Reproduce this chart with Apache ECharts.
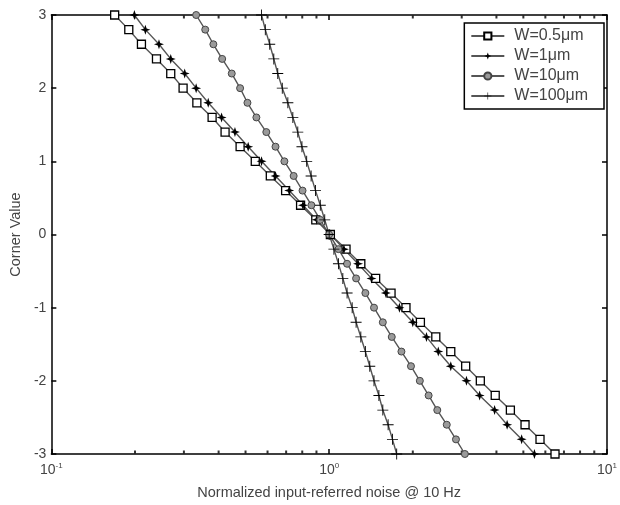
<!DOCTYPE html>
<html>
<head>
<meta charset="utf-8">
<script src="https://cdn.jsdelivr.net/npm/echarts@6/dist/echarts.min.js"></script>
<style>
  html, body { margin: 0; padding: 0; background: #fff; }
  #main { width: 620px; height: 505px; }
</style>
</head>
<body>
<div id="main"></div>
<script>
// corner values, top to bottom
const cornerValues = [3, 2.8, 2.6, 2.4, 2.2, 2, 1.8, 1.6, 1.4, 1.2, 1, 0.8, 0.6, 0.4, 0.2, 0,
  -0.2, -0.4, -0.6, -0.8, -1, -1.2, -1.4, -1.6, -1.8, -2, -2.2, -2.4, -2.6, -2.8, -3]

// normalized noise for each width
const noiseW05 = [0.169, 0.190, 0.211, 0.239, 0.269, 0.298, 0.334, 0.379, 0.422, 0.478, 0.542,
  0.614, 0.697, 0.789, 0.895, 1.01, 1.15, 1.30, 1.47, 1.67, 1.89, 2.13, 2.42, 2.74, 3.10,
  3.50, 3.96, 4.49, 5.07, 5.74, 6.50]
const noiseW1 = [0.199, 0.218, 0.244, 0.269, 0.302, 0.332, 0.367, 0.410, 0.458, 0.511, 0.571,
  0.641, 0.718, 0.805, 0.902, 1.01, 1.13, 1.27, 1.42, 1.60, 1.79, 2.00, 2.24, 2.47, 2.74,
  3.12, 3.48, 3.94, 4.37, 4.93, 5.48]
const noiseW10 = [0.332, 0.358, 0.383, 0.412, 0.446, 0.478, 0.508, 0.547, 0.594, 0.641, 0.690,
  0.745, 0.802, 0.863, 0.929, 1.00, 1.08, 1.16, 1.25, 1.35, 1.45, 1.56, 1.68, 1.82, 1.97,
  2.12, 2.28, 2.45, 2.65, 2.86, 3.08]
const noiseW100 = [0.571, 0.589, 0.611, 0.632, 0.653, 0.678, 0.710, 0.740, 0.771, 0.798, 0.830,
  0.861, 0.893, 0.929, 0.964, 1.00, 1.04, 1.08, 1.12, 1.16, 1.21, 1.25, 1.30, 1.35, 1.40,
  1.45, 1.51, 1.56, 1.63, 1.69, 1.75]

const seriesNames = ['W=0.5μm', 'W=1μm', 'W=10μm', 'W=100μm']
const yTicks = [-3, -2, -1, 0, 1, 2, 3]
const minorTicksX = [0.2, 0.3, 0.4, 0.5, 0.6, 0.7, 0.8, 0.9, 2, 3, 4, 5, 6, 7, 8, 9]

const chart = echarts.init(document.getElementById('main'))

const pairs = function(xs) {
  return xs.map((x, i) => [x, cornerValues[i]])
}

const starPath = 'path://M0,-10 L2.5,-2.5 L10,0 L2.5,2.5 L0,10 L-2.5,2.5 L-10,0 L-2.5,-2.5 Z'
const plusPath = 'path://M-0.8,-10 H0.8 V-0.8 H10 V0.8 H0.8 V10 H-0.8 V0.8 H-10 V-0.8 H-0.8 Z'

const lineStyle = { color: '#555', width: 1.4 }
const textColor = '#444'
const font = 'Liberation Sans, Arial, sans-serif'

const supLabel = function(v) {
  const p = Math.round(Math.log10(v))
  return '{b|10}{s|' + p + '}'
}

const axisX = function(pos, showLabel) {
  return {
    type: 'log',
    logBase: 10,
    min: 0.1,
    max: 10,
    position: pos,
    name: showLabel ? 'Normalized input-referred noise @ 10 Hz' : '',
    nameLocation: 'middle',
    nameGap: 31,
    nameTextStyle: { color: textColor, fontSize: 14.5, fontFamily: font },
    axisLine: { show: true, onZero: false, lineStyle: { color: '#000', width: 1.5 } },
    axisTick: { show: true, inside: true, length: 5, lineStyle: { color: '#000', width: 1.5 } },
    minorTick: { show: false },
    splitLine: { show: false },
    axisLabel: {
      show: showLabel,
      margin: 8,
      formatter: supLabel,
      rich: {
        b: { fontSize: 14, color: textColor, fontFamily: font },
        s: { fontSize: 8, color: textColor, fontFamily: font, verticalAlign: 'top', padding: [0, 0, 8, 0] }
      }
    }
  }
}

const axisY = function(pos, showLabel) {
  return {
    type: 'value',
    min: -3,
    max: 3,
    interval: 1,
    position: pos,
    name: showLabel ? 'Corner Value' : '',
    nameLocation: 'middle',
    nameGap: 25,
    nameTextStyle: { color: textColor, fontSize: 14.5, fontFamily: font },
    axisLine: { show: true, onZero: false, lineStyle: { color: '#000', width: 1.5 } },
    axisTick: { show: true, inside: true, length: 5, lineStyle: { color: '#000', width: 1.5 } },
    splitLine: { show: false },
    axisLabel: {
      show: showLabel,
      margin: 5,
      color: textColor,
      fontSize: 14,
      fontFamily: font,
      formatter: function(v) { return yTicks.indexOf(v) >= 0 ? String(v) : '' }
    }
  }
}

const optionData = {
  animation: false,
  backgroundColor: '#fff',
  grid: { left: 50, right: 11, top: 15, bottom: 50 },
  legend: {
    orient: 'vertical',
    right: 16,
    top: 23,
    data: seriesNames,
    backgroundColor: '#fff',
    borderColor: '#000',
    borderWidth: 1.5,
    padding: [5, 16, 5, 6],
    itemWidth: 33,
    itemHeight: 9,
    itemGap: 4,
    textStyle: { color: textColor, fontSize: 16, fontFamily: font, padding: [0, 0, 0, 5] }
  },
  xAxis: [axisX('bottom', true), axisX('top', false)],
  yAxis: [axisY('left', true), axisY('right', false)],
  series: [
    {
      name: seriesNames[0],
      type: 'line',
      data: pairs(noiseW05),
      symbol: 'rect',
      symbolSize: 8,
      lineStyle: lineStyle,
      itemStyle: { color: '#fff', borderColor: '#000', borderWidth: 1.3 },
      z: 4
    },
    {
      name: seriesNames[1],
      type: 'line',
      data: pairs(noiseW1),
      symbol: starPath,
      symbolSize: 10,
      lineStyle: lineStyle,
      itemStyle: { color: '#000' },
      z: 4
    },
    {
      name: seriesNames[2],
      type: 'line',
      data: pairs(noiseW10),
      symbol: 'circle',
      symbolSize: 7,
      lineStyle: lineStyle,
      itemStyle: { color: '#9a9a9a', borderColor: '#444', borderWidth: 1 },
      z: 4
    },
    {
      name: seriesNames[3],
      type: 'line',
      data: pairs(noiseW100),
      symbol: plusPath,
      symbolSize: 11,
      lineStyle: lineStyle,
      itemStyle: { color: '#000' },
      z: 4
    },
    // minor log ticks on the bottom and top frame
    {
      type: 'scatter',
      data: minorTicksX.map(x => [x, -3]),
      symbol: 'rect',
      symbolSize: [2, 3],
      symbolOffset: [0, -2],
      itemStyle: { color: '#000' },
      silent: true,
      z: 3
    },
    {
      type: 'scatter',
      data: minorTicksX.map(x => [x, 3]),
      symbol: 'rect',
      symbolSize: [2, 3],
      symbolOffset: [0, 2],
      itemStyle: { color: '#000' },
      silent: true,
      z: 3
    }
  ]
}

chart.setOption(optionData)
</script>
</body>
</html>
